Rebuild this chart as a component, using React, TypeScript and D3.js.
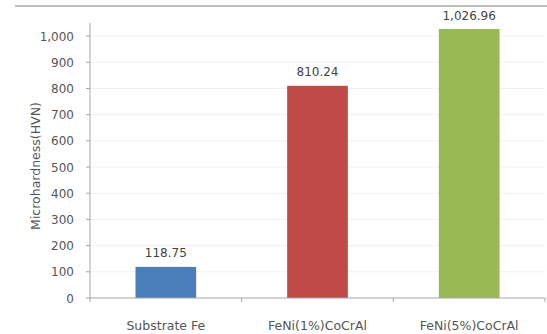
import React from "react";
import * as d3 from "d3";

const categories = ["Substrate Fe", "FeNi(1%)CoCrAl", "FeNi(5%)CoCrAl"];
const hardness = [118.75, 810.24, 1026.96];
const barColors = ["#4a7ebb", "#be4b48", "#98b954"];
const yTicks = [0, 100, 200, 300, 400, 500, 600, 700, 800, 900, 1000];
const yTitle = "Microhardness(HVN)";

const W = 547;
const H = 334;
const left = 90;
const right = 545;
const top = 23;
const bottom = 298;
const font = "'DejaVu Sans', sans-serif";
const textColor = "#555";

export default function App() {
  const x = d3.scaleBand<string>().domain(categories).range([left, right]).padding(0);
  const y = d3.scaleLinear().domain([0, 1050]).range([bottom, top]);
  const barW = x.bandwidth() * 0.4;
  const fmt = d3.format(",.2f");
  const fmtTick = d3.format(",");

  return (
    <svg
      width={W}
      height={H}
      style={{ position: "absolute", left: 0, top: 0, background: "#fff" }}
      fontFamily={font}
    >
      <line x1={15} x2={W} y1={6} y2={6} stroke="#bdbdbd" strokeWidth={2} />
      {yTicks.slice(1).map((t) => (
        <line key={`g${t}`} x1={left} x2={right} y1={y(t)} y2={y(t)} stroke="#f1f1f1" strokeWidth={1} />
      ))}
      {categories.map((c, i) => {
        const cx = x(c)! + x.bandwidth() / 2;
        return (
          <g key={c}>
            <rect x={cx - barW / 2} y={y(hardness[i])} width={barW} height={bottom - y(hardness[i])} fill={barColors[i]} />
            <text x={cx} y={y(hardness[i]) - 9.5} textAnchor="middle" fontSize={12} fill="#444">
              {fmt(hardness[i])}
            </text>
            <text x={cx} y={329.5} textAnchor="middle" fontSize={12.5} fill={textColor}>
              {c}
            </text>
          </g>
        );
      })}
      <line x1={left} x2={left} y1={top} y2={bottom} stroke="#a6a6a6" strokeWidth={1} />
      <line x1={left} x2={right} y1={bottom} y2={bottom} stroke="#a6a6a6" strokeWidth={1} />
      {yTicks.map((t) => (
        <g key={`t${t}`}>
          <line x1={left - 4} x2={left} y1={y(t)} y2={y(t)} stroke="#a6a6a6" />
          <text x={74} y={y(t) + 4.5} textAnchor="end" fontSize={12} fill={textColor}>
            {fmtTick(t)}
          </text>
        </g>
      ))}
      {[0, 1, 2, 3].map((i) => (
        <line key={`xt${i}`} x1={left + i * x.step()} x2={left + i * x.step()} y1={bottom} y2={bottom + 4} stroke="#a6a6a6" />
      ))}
      <text
        transform={`translate(39.5, 166) rotate(-90)`}
        textAnchor="middle"
        fontSize={12.5}
        fill={textColor}
      >
        {yTitle}
      </text>
    </svg>
  );
}
